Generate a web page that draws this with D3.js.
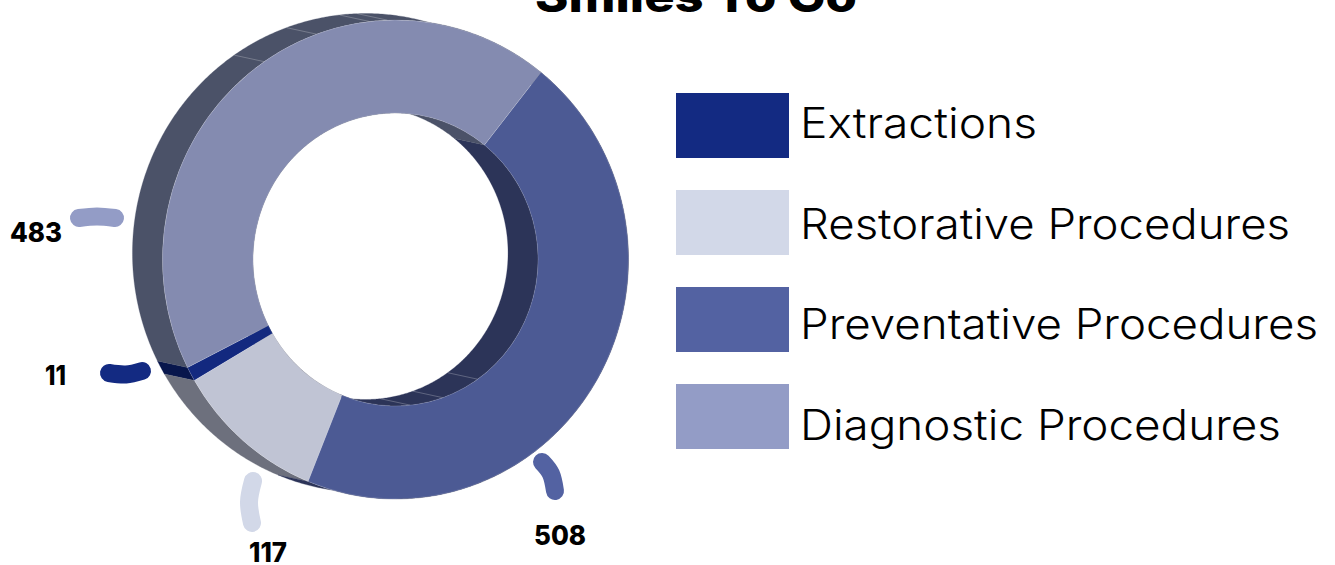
<!DOCTYPE html>
<html><head><meta charset="utf-8">
<script src="https://cdn.jsdelivr.net/npm/d3@7/dist/d3.min.js"></script>
<style>html,body{margin:0;padding:0;background:#fff;overflow:hidden}svg{display:block}text{font-family:Inter,"Open Sans",sans-serif}</style>
</head><body><svg id="c" width="1335" height="565"></svg>
<script>
const categories = ["Extractions","Restorative Procedures","Preventative Procedures","Diagnostic Procedures"];
const values = [11,117,508,483];
const legendColors = ["#132a82","#d2d8e8","#5362a2","#939cc6"];
const faceColors = ["#13297f","#c0c4d4","#4c5a94","#848bb0"];
const wallColors = ["#08164c","#6d707d","#2c3458","#4b5268"];
const title = "Smiles To Go";
const legendWidths = [237,490,518,481];
const labelLayout = [
  {x:45,w:21,y:385,pts:[[109,373],[126,374.5],[142,371]]},
  {x:249,w:38,y:562,pts:[[253,481],[249,502],[252,523]]},
  {x:534,w:52,y:545,pts:[[542,462],[551,474],[555,491]]},
  {x:10,w:52,y:242,pts:[[79,218],[97,216.5],[115,218]]}
];
const outerSeams = [325.7,340.2,353.6,358];
const innerSeams = [144.8,160.6,174];

const rad = Math.PI/180;
const front = {x:395.5,y:259.5}, back = {x:365.5,y:253};
const R = 239.5, r = 146.5, sx = 0.973;
const svg = d3.select("#c");

const pie = d3.pie().sort(null).startAngle(243.2*rad).endAngle((243.2-360)*rad);
const arcs = pie(values);
const P = (c,rr,a)=>[c.x+rr*sx*Math.sin(a), c.y-rr*Math.cos(a)];
const line = d3.line();

function wall(rr,a0,a1){
  const n = Math.ceil(Math.abs(a1-a0)/(0.5*rad));
  const t = d3.range(n+1).map(i=>a0+(a1-a0)*i/n);
  return line(t.map(a=>P(back,rr,a)).concat(t.slice().reverse().map(a=>P(front,rr,a))))+"Z";
}
const walls = svg.append("g");
[R,r].forEach(rr=>{
  walls.selectAll(null).data(arcs).join("path")
    .attr("d",d=>wall(rr,d.startAngle,d.endAngle))
    .attr("fill",(d,i)=>wallColors[i])
    .attr("stroke",(d,i)=>wallColors[i]).attr("stroke-width",0.3);
});
const seam = svg.append("g").attr("stroke","#fff").attr("stroke-opacity",0.3).attr("stroke-width",0.8);
[[R,outerSeams],[r,innerSeams]].forEach(([rr,list])=>{
  seam.selectAll(null).data(list).join("path")
    .attr("d",a=>line([P(back,rr,a*rad),P(front,rr,a*rad)]));
});
const arc = d3.arc().innerRadius(r).outerRadius(R);
svg.append("g").attr("transform",`translate(${front.x},${front.y}) scale(${sx},1)`)
  .selectAll("path").data(arcs).join("path")
  .attr("d",arc).attr("fill",(d,i)=>faceColors[i])
  .attr("stroke","#fff").attr("stroke-opacity",0.3).attr("stroke-width",0.5)
  .attr("vector-effect","non-scaling-stroke");

const curve = d3.line().curve(d3.curveNatural);
svg.append("g").selectAll("path").data(labelLayout).join("path")
  .attr("d",d=>curve(d.pts)).attr("fill","none")
  .attr("stroke",(d,i)=>legendColors[i]).attr("stroke-width",18).attr("stroke-linecap","round");
svg.append("g").selectAll("text").data(labelLayout).join("text")
  .attr("x",d=>d.x).attr("y",d=>d.y).text((d,i)=>values[i])
  .attr("font-size",27).attr("font-weight",800).attr("fill","#000")
  .attr("textLength",d=>d.w).attr("lengthAdjust","spacingAndGlyphs");

const lg = svg.append("g");
lg.selectAll("rect").data(categories).join("rect")
  .attr("x",676).attr("y",(d,i)=>93+97*i).attr("width",113).attr("height",65)
  .attr("fill",(d,i)=>legendColors[i]);
lg.selectAll("text").data(categories).join("text")
  .attr("x",800).attr("y",(d,i)=>138+100.7*i).text(d=>d)
  .attr("font-size",42).attr("font-weight",300).attr("fill","#000")
  .attr("textLength",(d,i)=>legendWidths[i]).attr("lengthAdjust","spacingAndGlyphs");

svg.append("text").attr("x",535).attr("y",12).text(title)
  .attr("font-size",44).attr("font-weight",800).attr("fill","#000")
  .attr("textLength",322).attr("lengthAdjust","spacingAndGlyphs");
</script></body></html>
